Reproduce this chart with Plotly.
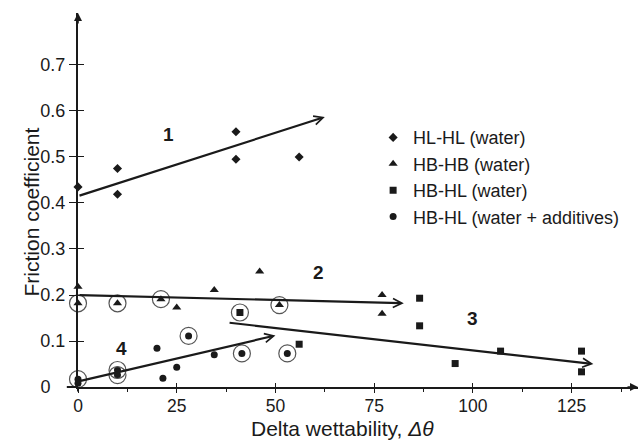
import plotly.graph_objects as go

# ---- data ----
hlhl_x = [0, 10, 10, 40, 40, 56]
hlhl_y = [0.435, 0.475, 0.419, 0.555, 0.495, 0.50]

hbhb_x = [0, 0, 10, 21, 25, 34.5, 46, 51, 77, 77]
hbhb_y = [0.218, 0.182, 0.182, 0.191, 0.173, 0.211, 0.251, 0.178, 0.200, 0.159]

hbhl_x = [41, 56, 86.5, 86.5, 95.5, 107, 127.5, 127.5]
hbhl_y = [0.162, 0.093, 0.193, 0.133, 0.051, 0.078, 0.078, 0.033]

add_x = [0, 0, 10, 10, 20, 21.5, 25, 28, 34.5, 41.5, 53]
add_y = [0.017, 0.008, 0.037, 0.026, 0.084, 0.019, 0.043, 0.111, 0.070, 0.073, 0.073]

# points highlighted with an open ring
ring_x = [0, 10, 21, 51, 41, 0, 10, 10, 28, 41.5, 53]
ring_y = [0.182, 0.182, 0.191, 0.178, 0.162, 0.017, 0.037, 0.026, 0.111, 0.073, 0.073]

# trend arrows and their labels
trend_ids = ["1", "2", "3", "4"]
trend_start_x = [0, 0, 38, 0]
trend_start_y = [0.415, 0.200, 0.140, 0.012]
trend_end_x = [62.5, 82.5, 130.5, 50]
trend_end_y = [0.587, 0.182, 0.050, 0.112]
label_x = [23, 61, 100, 11]
label_y = [0.548, 0.248, 0.149, 0.084]

x_ticks = [0, 25, 50, 75, 100, 125]
y_ticks = [0, 0.1, 0.2, 0.3, 0.4, 0.5, 0.6, 0.7]
y_tick_text = ["0\u00a0\u00a0\u00a0", "0.1", "0.2", "0.3", "0.4", "0.5", "0.6", "0.7"]

FONT = "Liberation Sans, Arial, sans-serif"
INK = "#1a1a1a"
X_RANGE = [0, 141.8]
Y_RANGE = [0, 0.813]

fig = go.Figure()
fig.add_trace(go.Scatter(x=hlhl_x, y=hlhl_y, mode="markers", name="HL-HL (water)",
                         marker=dict(symbol="diamond", size=7, color=INK), cliponaxis=False))
fig.add_trace(go.Scatter(x=hbhb_x, y=hbhb_y, mode="markers", name="HB-HB (water)",
                         marker=dict(symbol="triangle-up", size=8, color=INK), cliponaxis=False))
fig.add_trace(go.Scatter(x=hbhl_x, y=hbhl_y, mode="markers", name="HB-HL (water)",
                         marker=dict(symbol="square", size=7, color=INK), cliponaxis=False))
fig.add_trace(go.Scatter(x=add_x, y=add_y, mode="markers", name="HB-HL (water + additives)",
                         marker=dict(symbol="circle", size=7, color=INK), cliponaxis=False))
fig.add_trace(go.Scatter(x=ring_x, y=ring_y, mode="markers", showlegend=False,
                         marker=dict(symbol="circle-open", size=17, color="#555",
                                     line=dict(width=1.2, color="#555")), cliponaxis=False))
# invisible trace that carries the overlay axes (inner half of the crossing ticks)
fig.add_trace(go.Scatter(x=[None], y=[None], xaxis="x2", yaxis="y2", showlegend=False,
                         hoverinfo="skip"))

annotations = []
for i in range(len(trend_ids)):
    annotations.append(dict(x=trend_end_x[i], y=trend_end_y[i], ax=trend_start_x[i], ay=trend_start_y[i],
                            xref="x", yref="y", axref="x", ayref="y", text="", showarrow=True,
                            arrowhead=5, arrowsize=0.8, arrowwidth=2.2, arrowcolor=INK))
    annotations.append(dict(x=label_x[i], y=label_y[i], xref="x", yref="y", text="<b>%s</b>" % trend_ids[i],
                            showarrow=False, font=dict(family=FONT, size=19, color=INK)))

# axis arrowheads
annotations.append(dict(x=1, y=0, xref="paper", yref="paper", ax=-12, ay=0, text="", showarrow=True,
                        arrowhead=2, arrowsize=1, arrowwidth=1.6, arrowcolor=INK))
annotations.append(dict(x=0, y=1, xref="paper", yref="paper", ax=0, ay=12, text="", showarrow=True,
                        arrowhead=2, arrowsize=1, arrowwidth=1.6, arrowcolor=INK))

# axis titles
annotations.append(dict(x=0.473, y=0, xref="paper", yref="paper", yanchor="top", yshift=-28,
                        text="Delta wettability, <i>Δθ</i>", showarrow=False,
                        font=dict(family=FONT, size=21, color=INK)))
annotations.append(dict(x=0, y=0.468, xref="paper", yref="paper", xshift=-60,
                        text="Friction coefficient", textangle=-90, showarrow=False,
                        font=dict(family=FONT, size=21, color=INK)))

shapes = [
    # short extensions of the axis lines past the origin
    dict(type="line", xref="paper", yref="paper", x0=-0.02, x1=0, y0=0, y1=0,
         line=dict(color=INK, width=2)),
    dict(type="line", xref="paper", yref="paper", x0=0, x1=0, y0=-0.012, y1=0,
         line=dict(color=INK, width=2)),
]

fig.update_layout(
    width=642, height=442,
    margin=dict(l=78, r=4, t=13, b=55),
    paper_bgcolor="white", plot_bgcolor="rgba(0,0,0,0)",
    font=dict(family=FONT, size=18, color=INK),
    showlegend=True,
    legend=dict(x=0.527, y=0.716, xanchor="left", yanchor="top",
                font=dict(family=FONT, size=18, color=INK),
                bgcolor="rgba(0,0,0,0)", itemwidth=30, tracegroupgap=0),
    xaxis=dict(range=X_RANGE, showgrid=False, zeroline=False, showline=True,
               linewidth=2, linecolor=INK, ticks="outside", ticklen=4, tickwidth=1.2,
               tickcolor=INK, tickvals=x_ticks, ticklabelstandoff=-2,
               minor=dict(dtick=12.5, tick0=0, ticks="outside", ticklen=3, tickcolor=INK, tickwidth=1),
               tickfont=dict(family=FONT, size=17.5, color=INK)),
    yaxis=dict(range=Y_RANGE, showgrid=False, zeroline=False, showline=True,
               linewidth=2, linecolor=INK, ticks="outside", ticklen=7, tickwidth=1.2,
               tickcolor=INK, tickvals=y_ticks, ticktext=y_tick_text,
               tickfont=dict(family=FONT, size=18, color=INK)),
    xaxis2=dict(range=X_RANGE, overlaying="x", anchor="y2", side="bottom", showgrid=False,
                zeroline=False, showline=False, ticks="inside", ticklen=4, tickwidth=1.2,
                tickcolor=INK, tickvals=x_ticks, showticklabels=False),
    yaxis2=dict(range=Y_RANGE, overlaying="y", anchor="x2", side="left", showgrid=False,
                zeroline=False, showline=False, ticks="inside", ticklen=6, tickwidth=1.2,
                tickcolor=INK, tickvals=y_ticks, showticklabels=False),
    annotations=annotations,
    shapes=shapes,
)

fig.write_html("out.html")
